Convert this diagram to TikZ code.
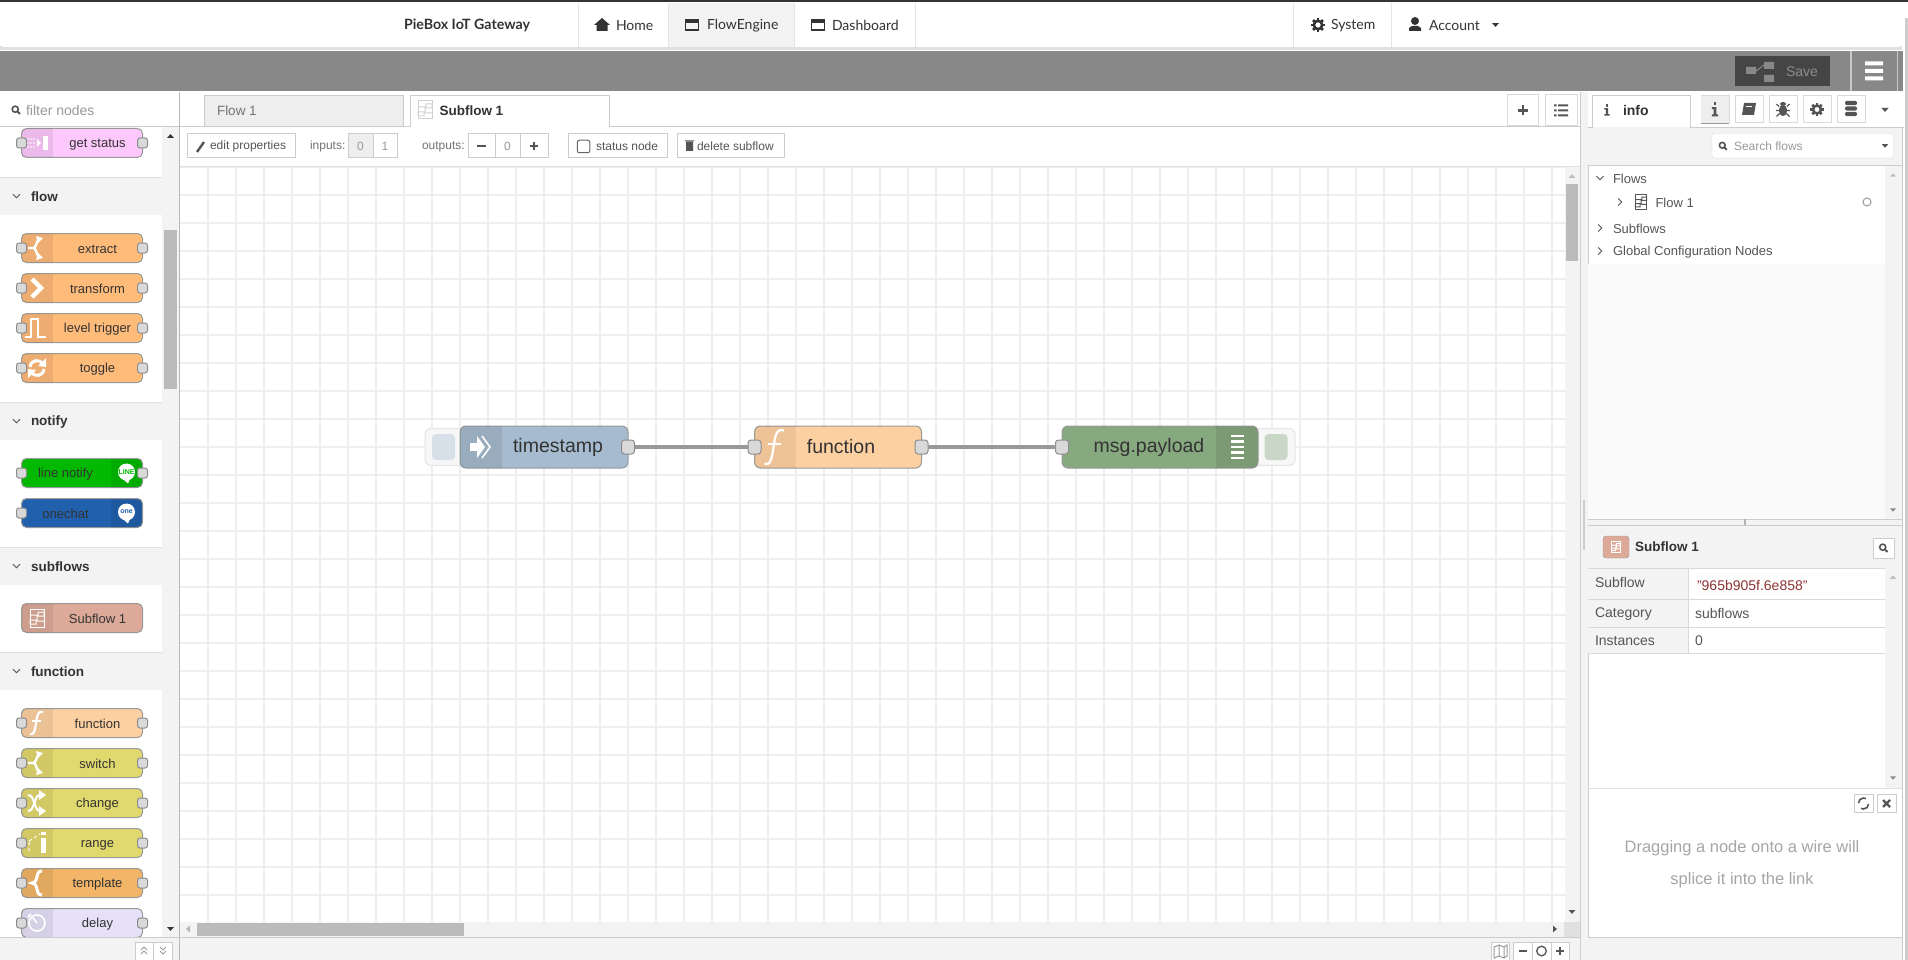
\documentclass[tikz,border=0pt]{standalone}
\usepackage{fontspec}
\setmainfont{Liberation Sans}
\newfontfamily\navfont{Lato}
\usetikzlibrary{positioning}

\definecolor{bandgray}{HTML}{888888}
\definecolor{panelgray}{HTML}{F3F3F3}
\definecolor{linegray}{HTML}{CCCCCC}
\definecolor{gridgray}{HTML}{EEEEEE}
\definecolor{thumbgray}{HTML}{BBBBBB}
\definecolor{textdark}{HTML}{333333}
\definecolor{textmid}{HTML}{555555}
\definecolor{textsoft}{HTML}{999999}
\definecolor{colmauve}{HTML}{FDC9FD}
\definecolor{colorange}{HTML}{FFBB7A}
\definecolor{colgreen}{HTML}{00B900}
\definecolor{colblue}{HTML}{2160AD}
\definecolor{colsub}{HTML}{DDAA99}
\definecolor{colfunc}{HTML}{FDD0A2}
\definecolor{colswitch}{HTML}{E2D96E}
\definecolor{coltempl}{HTML}{F3B567}
\definecolor{coldelay}{HTML}{E6E0F8}
\definecolor{colstamp}{HTML}{A6BBCF}
\definecolor{coldebug}{HTML}{87A980}

\newcommand{\uisize}[1]{\fontsize{#1}{#1}\selectfont}
\newcommand{\evenline}{\rule[-.04em]{0pt}{.9em}}
\newcommand{\evenlarge}{\rule[-.12em]{0pt}{.9em}}

\tikzset{
  txt/.style={inner sep=0, outer sep=0, anchor=west, text=textmid, font=\uisize{12}, execute at begin node=\evenline},
  navtxt/.style={txt, text=textdark, font=\navfont\uisize{14}},
  headtxt/.style={txt, text=textdark, font=\bfseries\uisize{13.5}},
  treetxt/.style={txt, text=textmid, font=\uisize{13}},
  celltxt/.style={txt, text=textmid, font=\uisize{14}},
  uibtn/.style={draw=linegray, fill=white, inner sep=0, outer sep=0, line width=1},
  palbox/.style={draw=black!40, rounded corners=5, line width=1, minimum width=121, minimum height=29, inner sep=0, outer sep=0},
  pallabel/.style={inner sep=0, text=textdark, font=\uisize{13}, execute at begin node=\evenline},
  palport/.style={draw=black!45, fill=black!15, rounded corners=2.5, line width=1, minimum width=10, minimum height=10, inner sep=0, outer sep=0},
  flowbox/.style={draw=black!40, rounded corners=6, line width=1, minimum height=42, inner sep=0, outer sep=0},
  flowlabel/.style={inner sep=0, text=textdark, font=\uisize{19.5}, execute at begin node=\evenlarge},
  flowport/.style={draw=black!45, fill=black!15, rounded corners=3, line width=1, minimum width=13, minimum height=14, inner sep=0, outer sep=0},
  stubbox/.style={draw=black!10, fill=black!3, rounded corners=6, line width=1, minimum width=40, minimum height=37, inner sep=0, outer sep=0},
  stubbtn/.style={rounded corners=4, minimum width=23, minimum height=26, inner sep=0, outer sep=0},
  wire/.style={draw=black!40, line width=3.5},
  % little icons, drawn around their own centre
  caretdown/.pic={\fill (-4.5,-2.5) -- (4.5,-2.5) -- (0,2.5) -- cycle;},
  caretup/.pic={\fill (-4.5,2.5) -- (4.5,2.5) -- (0,-2.5) -- cycle;},
  chevdown/.pic={\draw[line width=.9] (-3.5,-1.8) -- (0,1.8) -- (3.5,-1.8);},
  chevright/.pic={\draw[line width=.9] (-1.8,-3.5) -- (1.8,0) -- (-1.8,3.5);},
  lens/.pic={\draw[line width=1.6] (-1,-1) circle (3.8); \draw[line width=2] (1.8,1.8) -- (5,5);},
  winicon/.pic={\draw[line width=1.4] (-6.5,-5) rectangle (6.5,5); \fill (-6.5,-5) rectangle (6.5,-2);},
  gear/.pic={\draw[line width=2.6] (0,0) circle (4.4);
    \foreach \a in {0,45,...,315} {\draw[line width=2.6] (\a:5) -- (\a:7.4);}},
  plusicon/.pic={\draw[line width=2.6] (-5,0) -- (5,0) (0,-5) -- (0,5);},
  minusicon/.pic={\draw[line width=2.6] (-5,0) -- (5,0);},
  infoglyph/.pic={\fill (-1.6,-8) rectangle (1.6,-4.6);
    \fill (-3.4,-2.6) -- (1.6,-2.6) -- (1.6,5.4) -- (3.4,5.4) -- (3.4,7.6) -- (-3.4,7.6) -- (-3.4,5.4) -- (-1.6,5.4) -- (-1.6,-.4) -- (-3.4,-.4) -- cycle;},
  bugicon/.pic={\fill (0,-5.5) ellipse (3 and 2); \fill (0,1) ellipse (4.2 and 5.6);
    \draw[line width=1.1] (-4,-3) -- (-6.5,-5.5) (4,-3) -- (6.5,-5.5) (-4,1) -- (-7,1) (4,1) -- (7,1) (-3.5,4) -- (-6.5,7) (3.5,4) -- (6.5,7);},
  icfork/.pic={\draw[line width=2.4] (-9,0) -- (-4,0) .. controls (-1,0) and (-1,-4) .. (1,-8);
    \draw[line width=2.4] (-4,0) .. controls (-1,0) and (-1,4) .. (1,8);
    \fill (-1,-12) -- (6,-10) -- (1,-5) -- cycle;
    \fill (-1,12) -- (6,10) -- (1,5) -- cycle;},
  ictransform/.pic={\draw[line width=4.5] (-5,-9) -- (4,0) -- (-5,9);},
  icpulse/.pic={\draw[line width=2.2] (-12,9) -- (-6,9) -- (-6,-9) -- (1,-9) -- (1,9) -- (9,9);},
  ictoggle/.pic={\draw[line width=3] (-7,-1) .. controls (-6,-9) and (3,-9) .. (6,-4);
    \fill (9,-10) -- (9,-1) -- (1,-2) -- cycle;
    \draw[line width=3] (7,1) .. controls (6,9) and (-3,9) .. (-6,4);
    \fill (-9,10) -- (-9,1) -- (-1,2) -- cycle;},
  icsubflow/.pic={\draw[line width=1] (-7,-9) rectangle (7,9);
    \draw[line width=1] (-7,-3) -- (0,-3) .. controls (1,-3) and (-1,3) .. (1,3) -- (7,3) (1,-6) rectangle (7,-2) (-7,2) rectangle (-1,6);},
  icfunc/.pic={\draw[line width=2.2] (6,-11) .. controls (1,-13) and (0,-7) .. (-1,0) .. controls (-2,7) and (-3,13) .. (-7,11);
    \draw[line width=1.8] (-5,-2) -- (4,-2);},
  icshuffle/.pic={\draw[line width=2.2] (-9,-8) .. controls (-2,-8) and (-3,8) .. (3,8);
    \draw[line width=2.2] (-9,8) .. controls (-2,8) and (-3,-8) .. (3,-8);
    \fill (2,-13) -- (9,-8) -- (2,-3) -- cycle;
    \fill (2,13) -- (9,8) -- (2,3) -- cycle;},
  icrange/.pic={\fill (4,-5) rectangle (9,10); \fill (4,-11) rectangle (9,-8);
    \draw[line width=1,dashed] (-8,-2) -- (3,-9) (-8,-1) -- (-8,8) ;},
  icbrace/.pic={\draw[line width=3] (5,-12) .. controls (-3,-12) and (3,-1) .. (-5,0) .. controls (3,1) and (-3,12) .. (5,12);},
  icclock/.pic={\draw[line width=1.6] (0,0) circle (8); \draw[line width=1.6] (0,0) -- (-4,-5);
    \draw[line width=2] (-6,-9) -- (-9,-6);},
  icstatus/.pic={\foreach \px in {-9,-6,-3} \foreach \py in {-4,0,4} {\fill (\px,\py) circle (.9);}
    \fill (0,-4) -- (4,0) -- (0,4) -- cycle; \fill (6,-7) rectangle (11,7);},
  icarrow/.pic={\fill (-10,-4) rectangle (-3,4); \fill (-3,-11) -- (5,0) -- (-3,11) -- cycle;
    \draw[line width=1.6] (2,-11) -- (10,0) -- (2,11);},
  icbars/.pic={\foreach \by in {-11,-5.5,0,5.5,11} {\fill (-6.5,\by-1.2) rectangle (6.5,\by+1.2);}}
}

\begin{document}
\begin{tikzpicture}[x=1pt, y=-1pt]
  \useasboundingbox (0,0) rectangle (1908,960);
  \fill[white] (0,0) rectangle (1908,960);

  % canvas grid
  \foreach \gx in {208,236,...,1552} {\draw[gridgray, line width=1.5] (\gx,167) -- (\gx,922);}
  \foreach \gy in {167,195,...,923} {\draw[gridgray, line width=1.5] (180,\gy) -- (1565,\gy);}

  % top bar
  \fill[textdark] (0,0) rectangle (1908,2.5);
  \fill[black!20] (1905,18) rectangle (1908,960);
  \fill[black!12] (0,46) rectangle (1902,50);
  \fill[white, rounded corners=3] (1,3) rectangle (1901,47);
  \fill[panelgray] (668,3) rectangle (794,47);
  \foreach \nx in {578,668,794,915,1293,1391} {\draw[black!10] (\nx,3) -- (\nx,47);}
  \node[navtxt, font=\navfont\bfseries\uisize{14.2}] (brand) at (404,25) {PieBox IoT Gateway};
  \node[navtxt] (home) at (616,25) {Home};
  \node[navtxt] (flowengine) at (707,25) {FlowEngine};
  \node[navtxt] (dashboard) at (832,25) {Dashboard};
  \node[navtxt] (system) at (1331,25) {System};
  \node[navtxt] (account) at (1429,25) {Account};
  \fill[textdark] (594,25) -- (602,18) -- (610,25) -- (607.5,25) -- (607.5,31) -- (596.5,31) -- (596.5,25) -- cycle;
  \pic[color=textdark] at (692,25) {winicon};
  \pic[color=textdark] at (818,25) {winicon};
  \pic[color=textdark, scale=.95] at (1318,25) {gear};
  \fill[textdark] (1415,21) circle (4) (1409,31) -- (1409,28) -- (1412,26) -- (1418,26) -- (1421,28) -- (1421,31) -- cycle;
  \pic[color=textdark, scale=.75] at (1495.5,25) {caretdown};

  % grey deploy band
  \fill[bandgray] (0,51) rectangle (1902.5,91);
  \fill[black!73] (1735,56) rectangle (1830,86);
  \fill[bandgray] (1746,67) rectangle (1756,74) (1764,62) rectangle (1774,69) (1764,75) rectangle (1774,82);
  \draw[bandgray, line width=1] (1756,71) -- (1764,65);
  \node[txt, text=black!45, font=\uisize{14}] (save) at (1786,71) {Save};
  \draw[black!22, line width=1.5] (1851,51) -- (1851,91) (1897.5,51) -- (1897.5,91);
  \fill[white] (1865,61.5) rectangle (1883,65.5) (1865,69) rectangle (1883,73) (1865,76.5) rectangle (1883,80.5);

  % workspace tabs
  \fill[gridgray] (204,95) rectangle (403.5,126);
  \draw[linegray] (204,126) -- (204,95) -- (403.5,95) -- (403.5,126);
  \draw[linegray] (180,126.5) -- (410,126.5) -- (410,95) -- (609,95) -- (609,126.5) -- (1580,126.5);
  \node[txt, text=black!55, font=\uisize{13.5}] (flowtab) at (217,110) {Flow 1};
  \pic[color=black!18] at (425,110) {icsubflow};
  \node[headtxt] (subtab) at (439.5,110) {Subflow 1};
  \node[uibtn, minimum width=30.5, minimum height=31, draw=black!15] (addtab) at (1523,110.5) {};
  \node[uibtn, minimum width=32, minimum height=31, draw=black!15] (listtab) at (1561,110.5) {};
  \pic[color=textmid] at (addtab) {plusicon};
  \foreach \ly in {-5,0,5} {\fill[textmid] (1554,110.5+\ly-1) rectangle (1556.5,110.5+\ly+1) (1558,110.5+\ly-1) rectangle (1568,110.5+\ly+1);}

  % subflow toolbar
  \draw[black!12, line width=1] (180,166.5) -- (1580,166.5);
  \node[uibtn, minimum width=108, minimum height=24] (editbtn) at (241,146) {};
  \draw[textmid, line width=2.4] (197,152) -- (204,142);
  \node[txt] (edittxt) at (210,146) {edit properties};
  \node[txt, text=black!55] (inputstxt) at (310,146) {inputs:};
  \node[uibtn, minimum width=25, minimum height=24, fill=gridgray] (inzero) at (360.5,146) {};
  \node[uibtn, minimum width=24, minimum height=24] (inone) at (385,146) {};
  \node[inner sep=0, text=textsoft, font=\uisize{12}] (inzerotxt) at (inzero) {0};
  \node[inner sep=0, text=textsoft, font=\uisize{12}] (inonetxt) at (inone) {1};
  \node[txt, text=black!55] (outputstxt) at (422,146) {outputs:};
  \node[uibtn, minimum width=27, minimum height=24] (outminus) at (481.5,146) {};
  \node[uibtn, minimum width=25, minimum height=24] (outzero) at (507.5,146) {};
  \node[uibtn, minimum width=28, minimum height=24] (outplus) at (534,146) {};
  \pic[color=textmid, scale=.85] at (outminus) {minusicon};
  \node[inner sep=0, text=textsoft, font=\uisize{12}] (outzerotxt) at (outzero) {0};
  \pic[color=textmid, scale=.85] at (outplus) {plusicon};
  \node[uibtn, minimum width=99, minimum height=24] (statusbtn) at (617.5,146) {};
  \node[draw=black!60, line width=1, rounded corners=2, minimum width=12.5, minimum height=12.5, inner sep=0] (statusbox) at (583.5,146.5) {};
  \node[txt] (statustxt) at (596,146) {status node};
  \node[uibtn, minimum width=107, minimum height=24] (delbtn) at (730.5,146) {};
  \fill[textmid] (686,142) rectangle (693,151) (685,140.5) rectangle (694,141.5);
  \node[txt] (deltxt) at (697,146) {delete subflow};

  % canvas flow
  \node[stubbox] (instub) at (445,447) {};
  \node[stubbtn, fill=colstamp!45] (inbtn) at (443.5,447) {};
  \node[stubbox] (outstub) at (1275,447) {};
  \node[stubbtn, fill=coldebug!45] (outbtn) at (1276,447) {};
  \node[flowbox, minimum width=168, fill=colstamp] (timestampnode) at (544,447) {};
  \node[flowbox, minimum width=167, fill=colfunc] (functionnode) at (838,447) {};
  \node[flowbox, minimum width=196, fill=coldebug] (payloadnode) at (1160,447) {};
  \begin{scope}
    \clip[rounded corners=6] (timestampnode.north west) rectangle (timestampnode.south east);
    \fill[black, opacity=.08] (timestampnode.north west) rectangle (502,468);
  \end{scope}
  \begin{scope}
    \clip[rounded corners=6] (functionnode.north west) rectangle (functionnode.south east);
    \fill[black, opacity=.06] (functionnode.north west) rectangle (796,468);
  \end{scope}
  \begin{scope}
    \clip[rounded corners=6] (payloadnode.north west) rectangle (payloadnode.south east);
    \fill[black, opacity=.08] (1216,426) rectangle (payloadnode.south east);
  \end{scope}
  \pic[color=white] at (480,447) {icarrow};
  \pic[color=white, scale=1.5] at (775,447) {icfunc};
  \pic[color=white] at (1237,447) {icbars};
  \node[flowlabel] (timestamptxt) at (558,447) {timestamp};
  \node[flowlabel] (functiontxt) at (841,447) {function};
  \node[flowlabel] (payloadtxt) at (1149,447) {msg.payload};
  \node[flowport] (timestampout) at (timestampnode.east) {};
  \node[flowport] (functionin) at (functionnode.west) {};
  \node[flowport] (functionout) at (functionnode.east) {};
  \node[flowport] (payloadin) at (payloadnode.west) {};
  \draw[wire] (timestampout) -- (functionin);
  \draw[wire] (functionout) -- (payloadin);

  % canvas scrollbars and bottom bar
  \fill[panelgray] (1565,167) rectangle (1580,922);
  \fill[panelgray] (180,922) rectangle (1580,937);
  \fill[thumbgray] (1566,184) rectangle (1578,261);
  \fill[thumbgray] (197,923) rectangle (464,936);
  \fill[black!12] (1564,922) rectangle (1580,937);
  \pic[color=black!25, scale=.75] at (1572,176) {caretup};
  \pic[color=textmid, scale=.75] at (1572,912) {caretdown};
  \pic[color=black!30, rotate=-90, scale=.75] at (188,929) {caretdown};
  \pic[color=textmid, rotate=90, scale=.75] at (1555,929) {caretdown};
  \fill[panelgray] (180,937) rectangle (1588,960);
  \draw[linegray] (180,937.5) -- (1580,937.5);
  \node[uibtn, minimum width=18, minimum height=18, anchor=north west] (mapbtn) at (1491,942) {};
  \node[uibtn, minimum width=19, minimum height=18, anchor=north west] (zoomout) at (1513,942) {};
  \node[uibtn, minimum width=19, minimum height=18, anchor=north west] (zoomreset) at (1532,942) {};
  \node[uibtn, minimum width=18, minimum height=18, anchor=north west] (zoomin) at (1551,942) {};
  \draw[textsoft, line width=1] (1494,947) -- (1499,945) -- (1504,947) -- (1507,945) -- (1507,956) -- (1504,958) -- (1499,956) -- (1494,958) -- cycle (1499,945) -- (1499,956) (1504,947) -- (1504,958);
  \pic[color=textmid, scale=.8] at (zoomout) {minusicon};
  \draw[textmid, line width=1.3] (zoomreset) circle (4.8);
  \pic[color=textmid, scale=.8] at (zoomin) {plusicon};

  % palette
  \draw[linegray] (0,126.5) -- (180,126.5);
  \draw[black!28, line width=1] (179.5,92) -- (179.5,960);
  \pic[color=textmid, scale=.8] at (16,110) {lens};
  \node[txt, text=textsoft, font=\uisize{14}] (filtertxt) at (26,110) {filter nodes};
  \fill[panelgray] (162,127) rectangle (179,937);
  \fill[thumbgray] (164,230) rectangle (177,389);
  \pic[color=textdark, scale=.75] at (170.5,136) {caretup};
  \pic[color=textdark, scale=.75] at (170.5,929) {caretdown};
  \foreach \nm/\yy/\lbl in {flowcat/196/flow, notifycat/421/notify, subflowcat/566/subflows, functioncat/671/function} {
    \fill[panelgray] (0,\yy-19) rectangle (162,\yy+19);
    \draw[black!12] (0,\yy-19) -- (162,\yy-19);
    \pic[color=textmid] at (16.5,\yy) {chevdown};
    \node[headtxt] (\nm) at (31,\yy) {\lbl};
  }
  \foreach \nm/\yy/\col/\ic/\lbl in {
      getstatus/143/colmauve/icstatus/get status,
      extract/248/colorange/icfork/extract,
      transform/288/colorange/ictransform/transform,
      leveltrigger/328/colorange/icpulse/level trigger,
      toggle/368/colorange/ictoggle/toggle,
      function/723/colfunc/icfunc/function,
      switch/763/colswitch/icfork/switch,
      change/803/colswitch/icshuffle/change,
      range/843/colswitch/icrange/range,
      template/883/coltempl/icbrace/template,
      delay/923/coldelay/icclock/delay} {
    \node[palbox, fill=\col] (\nm) at (82,\yy) {};
    \begin{scope}
      \clip[rounded corners=5] (\nm.north west) rectangle (\nm.south east);
      \fill[black, opacity=.07] (\nm.north west) rectangle ([xshift=31.5]\nm.south west);
    \end{scope}
    \pic[color=white] at (37,\yy) {\ic};
    \node[pallabel] (\nm-txt) at (97.5,\yy) {\lbl};
    \node[palport] (\nm-in) at (\nm.west) {};
    \node[palport] (\nm-out) at (\nm.east) {};
  }
  % notify nodes have their icon on the right
  \foreach \nm/\yy/\col/\lbl/\mark in {linenotify/473/colgreen/line notify/LINE, onechat/513/colblue/onechat/one} {
    \node[palbox, fill=\col] (\nm) at (82,\yy) {};
    \begin{scope}
      \clip[rounded corners=5] (\nm.north west) rectangle (\nm.south east);
      \fill[black, opacity=.07] ([xshift=-31.5]\nm.north east) rectangle (\nm.south east);
    \end{scope}
    \fill[white] (126.5,\yy-1) circle (8.5);
    \fill[white] (124,\yy+7) -- (128,\yy+10.5) -- (130,\yy+6) -- cycle;
    \node[inner sep=0, text=\col, font=\bfseries\uisize{7}] (\nm-mark) at (126.5,\yy-1) {\mark};
    \node[pallabel] (\nm-txt) at (65.5,\yy) {\lbl};
    \node[palport] (\nm-in) at (\nm.west) {};
  }
  \node[palport] (linenotify-out) at (linenotify.east) {};
  \node[palbox, fill=colsub] (subflownode) at (82,618) {};
  \begin{scope}
    \clip[rounded corners=5] (subflownode.north west) rectangle (subflownode.south east);
    \fill[black, opacity=.07] (subflownode.north west) rectangle ([xshift=31.5]subflownode.south west);
  \end{scope}
  \pic[color=white] at (37,618) {icsubflow};
  \node[pallabel] (subflownode-txt) at (97.5,618) {Subflow 1};
  \fill[panelgray] (0,937) rectangle (179,960);
  \draw[linegray] (0,937.5) -- (180,937.5);
  \node[uibtn, minimum width=18, minimum height=18, anchor=north west] (collapsebtn) at (135,942) {};
  \node[uibtn, minimum width=19, minimum height=18, anchor=north west] (expandbtn) at (153.5,942) {};
  \draw[textsoft, line width=1] (141,950) -- (144,947) -- (147,950) (141,954) -- (144,951) -- (147,954);
  \draw[textsoft, line width=1] (160,947) -- (163,950) -- (166,947) (160,951) -- (163,954) -- (166,951);

  % sidebar frame
  \fill[panelgray] (1580,92) rectangle (1588,960);
  \draw[linegray] (1580,92) -- (1580,960) (1588,127) -- (1588,960);
  \fill[black!20] (1583,500) rectangle (1585,550);
  \draw[linegray] (1902,127) -- (1902,960);
  \fill[panelgray] (1588,127) rectangle (1902,165);
  \fill[white] (1592,96) rectangle (1690.5,127.5);
  \draw[linegray] (1588,127) -- (1592,127) -- (1592,95) -- (1690.5,95) -- (1690.5,127) -- (1904,127);
  \pic[color=textmid, scale=.75] at (1607,110) {infoglyph};
  \node[txt, text=textdark, font=\bfseries\uisize{14}] (infotab) at (1623,110) {info};
  \foreach \nm/\bx in {infobtn/1715, helpbtn/1749, debugbtn/1783, configbtn/1817, contextbtn/1851} {
    \node[uibtn, minimum width=28, minimum height=27, draw=black!15] (\nm) at (\bx,109.5) {};
  }
  \fill[gridgray] (1701,96) rectangle (1729,123);
  \draw[black!40, line width=1.5] (1701,123.5) -- (1729,123.5);
  \pic[color=textmid, scale=.9] at (infobtn) {infoglyph};
  \fill[textmid] (1744,103) -- (1756,103) -- (1754,115) -- (1742,115) -- cycle;
  \draw[white, line width=.8] (1746,106) -- (1752,106);
  \pic[color=textmid] at (debugbtn) {bugicon};
  \pic[color=textmid, scale=.9] at (configbtn) {gear};
  \foreach \dy in {103,108.5,114} {\fill[textmid, rounded corners=2] (1845,\dy-2.2) rectangle (1857,\dy+2.2);}
  \pic[color=textmid, scale=.8] at (1885,110) {caretdown};

  % info search
  \draw[black!15, fill=white, rounded corners=2] (1712,133.5) rectangle (1893.5,158);
  \pic[color=textmid, scale=.75] at (1723,146) {lens};
  \node[txt, text=textsoft] (searchtxt) at (1734,146) {Search flows};
  \pic[color=textmid, scale=.7] at (1885,146) {caretdown};
  \draw[linegray] (1588,165) -- (1902,165);

  % info tree
  \fill[black!2] (1588,264) rectangle (1885,519);
  \fill[panelgray] (1885,166) rectangle (1902,519);
  \pic[color=black!25, scale=.7] at (1893,175) {caretup};
  \pic[color=black!45, scale=.7] at (1893,510) {caretdown};
  \pic[color=textmid] at (1600,178) {chevdown};
  \node[treetxt] (flowstree) at (1613,178) {Flows};
  \pic[color=textmid] at (1620,202) {chevright};
  \pic[color=textmid, scale=.8] at (1641,202) {icsubflow};
  \node[treetxt] (flowonetree) at (1655.5,202) {Flow 1};
  \node[draw=textsoft, circle, minimum size=8, inner sep=0, line width=1] (flowonedot) at (1867,202) {};
  \pic[color=textmid] at (1600,228) {chevright};
  \node[treetxt] (subflowstree) at (1613,228) {Subflows};
  \pic[color=textmid] at (1600,251) {chevright};
  \node[treetxt] (globaltree) at (1613,251) {Global Configuration Nodes};

  % info detail
  \fill[panelgray] (1588,519) rectangle (1902,568);
  \draw[linegray] (1588,519) -- (1902,519) (1588,525) -- (1902,525);
  \fill[black!30] (1744,519) rectangle (1746,525);
  \node[draw=black!40, fill=colsub, rounded corners=3, minimum width=26, minimum height=22, inner sep=0] (infosub) at (1616,547) {};
  \pic[color=white, scale=.6] at (infosub) {icsubflow};
  \node[headtxt] (infotitle) at (1635,546) {Subflow 1};
  \node[uibtn, minimum width=21, minimum height=20] (findbtn) at (1883.5,548) {};
  \pic[color=textmid, scale=.8] at (findbtn) {lens};
  \fill[panelgray] (1588,568) rectangle (1688,653);
  \fill[panelgray] (1885,568) rectangle (1902,788);
  \draw[black!15] (1588,568) -- (1885,568) (1588,599) -- (1885,599) (1588,627) -- (1885,627) (1588,653.5) -- (1885,653.5) (1688,568) -- (1688,653);
  \node[celltxt] (subflowkey) at (1595,582) {Subflow};
  \node[txt, text=red!45!black!80, font=\uisize{14}] (subflowval) at (1697,584.5) {"965b905f.6e858"};
  \node[celltxt] (categorykey) at (1595,613) {Category};
  \node[celltxt] (categoryval) at (1695,613) {subflows};
  \node[celltxt] (instanceskey) at (1595,640) {Instances};
  \node[celltxt] (instancesval) at (1695,640) {0};
  \pic[color=black!25, scale=.7] at (1893,577) {caretup};
  \pic[color=black!45, scale=.7] at (1893,778) {caretdown};

  % tips
  \fill[white] (1589,788) rectangle (1902,937);
  \draw[black!12] (1588,788.5) -- (1902,788.5);
  \draw[linegray] (1588,937.5) -- (1902,937.5);
  \node[uibtn, minimum width=19, minimum height=18] (tipsrefresh) at (1863.5,803.5) {};
  \node[uibtn, minimum width=19, minimum height=18] (tipsclose) at (1886.5,803.5) {};
  \draw[textmid, line width=1.6] (1858.5,803) arc (180:300:5) (1868.5,804) arc (0:120:5);
  \draw[textmid, line width=2.2] (1883,800) -- (1890,807) (1890,800) -- (1883,807);
  \node[inner sep=0, text=black!35, font=\uisize{16.5}] (tipsone) at (1742,848.5) {Dragging a node onto a wire will};
  \node[inner sep=0, text=black!35, font=\uisize{16.5}] (tipstwo) at (1742,880) {splice it into the link};
  \fill[panelgray] (1588,938) rectangle (1902,960);
\end{tikzpicture}
\end{document}
